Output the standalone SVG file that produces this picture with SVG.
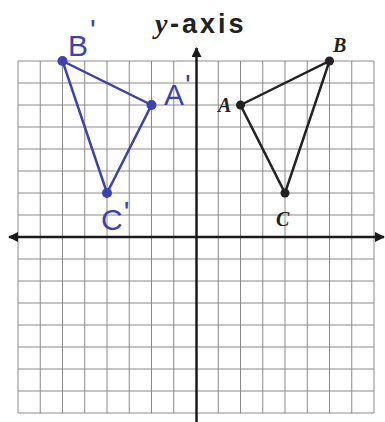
<svg xmlns="http://www.w3.org/2000/svg" width="385" height="422" viewBox="0 0 385 422">
<defs>
<style>
.grid line{stroke:#8a8a8a;stroke-width:1}
.axis{stroke:#1a1a1a;stroke-width:2.5;fill:none}
.blue{stroke:#3d42ad;stroke-width:2.5;fill:none}
.black{stroke:#222;stroke-width:2.5;fill:none}
.hand{font-family:"Liberation Sans",sans-serif;font-size:30px;fill:#3d42ad}
.lbl{font-family:"Liberation Serif",serif;font-weight:bold;font-style:italic;font-size:20px;fill:#222}
</style>
<marker id="ah" viewBox="0 0 10 10" refX="9" refY="5" markerWidth="4" markerHeight="4" orient="auto-start-reverse"><path d="M0,0 L10,5 L0,10 z" fill="#1a1a1a"/></marker>
</defs>
<rect width="385" height="422" fill="#fff"/>
<text x="155" y="33" font-family="Liberation Serif,serif" font-style="italic" font-weight="bold" font-size="28" fill="#222">y</text>
<text x="170" y="33" font-family="Liberation Sans,sans-serif" font-weight="bold" font-size="27" letter-spacing="3" fill="#222">-axis</text>
<g class="grid">
<line x1="18" y1="61" x2="18" y2="413"/><line x1="40.25" y1="61" x2="40.25" y2="413"/><line x1="62.5" y1="61" x2="62.5" y2="413"/><line x1="84.75" y1="61" x2="84.75" y2="413"/><line x1="107" y1="61" x2="107" y2="413"/><line x1="129.25" y1="61" x2="129.25" y2="413"/><line x1="151.5" y1="61" x2="151.5" y2="413"/><line x1="173.75" y1="61" x2="173.75" y2="413"/><line x1="218.25" y1="61" x2="218.25" y2="413"/><line x1="240.5" y1="61" x2="240.5" y2="413"/><line x1="262.75" y1="61" x2="262.75" y2="413"/><line x1="285" y1="61" x2="285" y2="413"/><line x1="307.25" y1="61" x2="307.25" y2="413"/><line x1="329.5" y1="61" x2="329.5" y2="413"/><line x1="351.75" y1="61" x2="351.75" y2="413"/><line x1="374" y1="61" x2="374" y2="413"/>
<line x1="18" y1="61" x2="374" y2="61"/><line x1="18" y1="83" x2="374" y2="83"/><line x1="18" y1="105" x2="374" y2="105"/><line x1="18" y1="127" x2="374" y2="127"/><line x1="18" y1="149" x2="374" y2="149"/><line x1="18" y1="171" x2="374" y2="171"/><line x1="18" y1="193" x2="374" y2="193"/><line x1="18" y1="215" x2="374" y2="215"/><line x1="18" y1="259" x2="374" y2="259"/><line x1="18" y1="281" x2="374" y2="281"/><line x1="18" y1="303" x2="374" y2="303"/><line x1="18" y1="325" x2="374" y2="325"/><line x1="18" y1="347" x2="374" y2="347"/><line x1="18" y1="369" x2="374" y2="369"/><line x1="18" y1="391" x2="374" y2="391"/><line x1="18" y1="413" x2="374" y2="413"/>
</g>
<g id="axes">
<line class="axis" x1="9" y1="237" x2="384" y2="237" marker-start="url(#ah)" marker-end="url(#ah)"/>
<line class="axis" x1="196.5" y1="48" x2="196.5" y2="422" marker-start="url(#ah)"/>
</g>
<g id="connectors">
<polygon class="blue" points="62.5,61 151.5,105 107,193"/>
<polygon class="black" points="240.5,105 329.5,61 285,193"/>
</g>
<g id="Bp"><circle cx="62.5" cy="61" r="5" fill="#3d42ad"/><text class="hand" x="68" y="56">B<tspan dx="2" dy="-16">'</tspan></text></g>
<g id="Ap"><circle cx="151.5" cy="105" r="5" fill="#3d42ad"/><text class="hand" x="164" y="105">A<tspan dx="1" dy="-10">'</tspan></text></g>
<g id="Cp"><circle cx="107" cy="193" r="5" fill="#3d42ad"/><text class="hand" x="101" y="230">C<tspan dx="1" dy="-8">'</tspan></text></g>
<g id="A"><circle cx="240.5" cy="105" r="4.5" fill="#222"/><text class="lbl" x="218" y="112">A</text></g>
<g id="B"><circle cx="329.5" cy="61" r="4.5" fill="#222"/><text class="lbl" x="333" y="52">B</text></g>
<g id="C"><circle cx="285" cy="193" r="4.5" fill="#222"/><text class="lbl" x="276" y="226" font-style="normal">C</text></g>
</svg>
